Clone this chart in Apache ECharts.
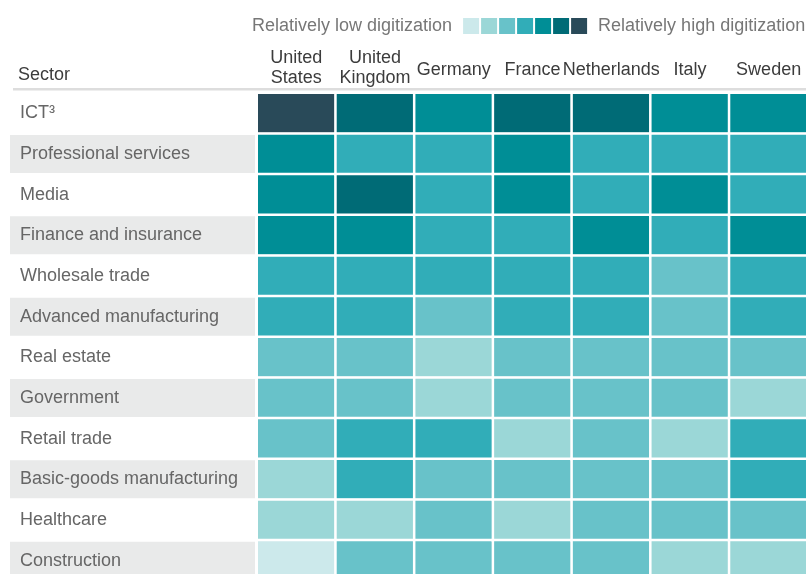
<!DOCTYPE html>
<html>
<head>
<meta charset="utf-8">
<script src="https://cdn.jsdelivr.net/npm/echarts@6/dist/echarts.min.js"></script>
<style>
  html, body { margin: 0; padding: 0; background: #fff; }
  #chart { width: 806px; height: 574px; }
</style>
</head>
<body>
<div id="chart"></div>
<script>
// digitization level, 1 = relatively low ... 7 = relatively high
const sectors = [
  'ICT³', 'Professional services', 'Media', 'Finance and insurance',
  'Wholesale trade', 'Advanced manufacturing', 'Real estate', 'Government',
  'Retail trade', 'Basic-goods manufacturing', 'Healthcare', 'Construction'
]
const countries = ['United\nStates', 'United\nKingdom', 'Germany', 'France', 'Netherlands', 'Italy', 'Sweden']

const unitedStates = [7, 5, 5, 5, 4, 4, 3, 3, 3, 2, 2, 1]
const unitedKingdom = [6, 4, 6, 5, 4, 4, 3, 3, 4, 4, 2, 3]
const germany = [5, 4, 4, 4, 4, 3, 2, 2, 4, 3, 3, 3]
const france = [6, 5, 5, 4, 4, 4, 3, 3, 2, 3, 2, 3]
const netherlands = [6, 4, 4, 5, 4, 4, 3, 3, 3, 3, 3, 3]
const italy = [5, 4, 5, 4, 3, 3, 3, 3, 2, 3, 3, 2]
const sweden = [5, 4, 4, 5, 4, 4, 3, 2, 4, 4, 3, 2]

const levels = [1, 2, 3, 4, 5, 6, 7]
const levelColors = ['#cce9eb', '#9bd7d7', '#68c2c9', '#31adb8', '#008e96', '#006b76', '#294a59']

const byCountry = [unitedStates, unitedKingdom, germany, france, netherlands, italy, sweden]
const cells = []
byCountry.forEach((col, x) => {
  col.forEach((v, y) => cells.push([x, y, v]))
})

const chart = echarts.init(document.getElementById('chart'))
const font = '"Liberation Sans", Arial, sans-serif'

chart.setOption({
  animation: false,
  textStyle: { fontFamily: font },
  title: {
    text: 'Sector',
    left: 13,
    top: 61,
    textStyle: { fontFamily: font, fontSize: 18, fontWeight: 'normal', color: '#3c3c3c' }
  },
  // grid runs past the bottom/right edge like the cropped original
  grid: { left: 257, top: 93, width: 551, height: 488, outerBoundsMode: 'none' },
  xAxis: {
    type: 'category',
    position: 'top',
    data: countries,
    axisLine: { show: false },
    axisTick: { show: false },
    axisLabel: {
      interval: 0,
      margin: 5,
      formatter: (v) => v.indexOf('\n') >= 0
        ? v.split('\n').map(s => '{a|' + s + '}').join('\n')
        : '{b|' + v + '}',
      rich: {
        a: { fontFamily: font, fontSize: 18, color: '#3c3c3c', lineHeight: 20 },
        b: { fontFamily: font, fontSize: 18, color: '#3c3c3c', lineHeight: 36 }
      }
    }
  },
  yAxis: {
    type: 'category',
    inverse: true,
    data: sectors,
    axisLine: { show: false },
    axisTick: { show: false },
    axisLabel: {
      interval: 0,
      align: 'left',
      margin: 247,
      formatter: (v, i) => (i % 2 ? '{g|' : '{w|') + v + '}',
      rich: {
        g: { fontFamily: font, fontSize: 18, color: '#666', backgroundColor: '#e9eaea', width: 235, height: 38, lineHeight: 38, padding: [0, 0, 0, 10] },
        w: { fontFamily: font, fontSize: 18, color: '#666', width: 235, height: 38, lineHeight: 38, padding: [0, 0, 0, 10] }
      }
    }
  },
  visualMap: {
    type: 'piecewise',
    orient: 'horizontal',
    left: 237,
    top: 2,
    itemWidth: 16,
    itemHeight: 16,
    itemGap: 2,
    itemSymbol: 'rect',
    showLabel: false,
    selectedMode: false,
    text: ['\u2002Relatively high digitization', 'Relatively low digitization\u2002'],
    textStyle: { fontFamily: font, fontSize: 18, color: '#777' },
    pieces: levels.map((l, i) => ({ value: l, color: levelColors[i] }))
  },
  graphic: [{
    type: 'rect',
    shape: { x: 13, y: 88, width: 793, height: 2.5 },
    style: { fill: '#dddddd' }
  }],
  series: [{
    type: 'heatmap',
    data: cells,
    itemStyle: { borderColor: '#fff', borderWidth: 2.5 },
    emphasis: { disabled: true }
  }]
})
</script>
</body>
</html>
